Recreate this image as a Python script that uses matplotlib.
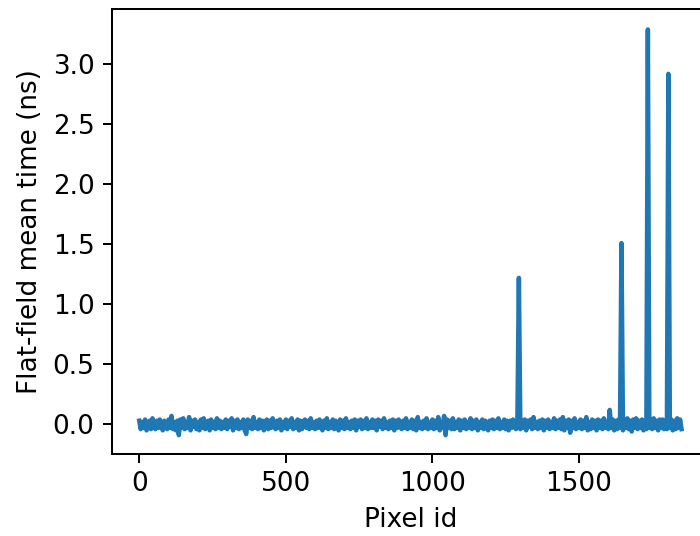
import numpy as np
import matplotlib
matplotlib.use("Agg")
import matplotlib.pyplot as plt

plt.rcParams["font.size"] = 10.5

# flat-field mean time per pixel, every 5 pixel ids
# (noise in units of 0.01 ns, spikes put in separately)
pixel_step = 5
noise_cns = [
    3, -4, 2, -3, 4, -5, 1, 3, -4, 5, -2, -4, 3, -3, 4, -2, -5, 3, 1, -4,
    4, -3, 7, -4, 2, -5, 3, -9, 4, -3, 5, -4, 2, -3, 6, -5, 3, -2, 4, -4,
    2, -5, 4, -3, 5, -4, 1, 3, -5, 4, -3, 2, -4, 5, -3, 3, -4, 2, -3, 4,
    -4, 3, -2, 5, -5, 3, -3, 4, -4, 2, -3, 4, -5, -8, 4, -3, 3, -4, 6, -3,
    2, -4, 4, -3, 3, -5, 2, 4, -4, 3, -3, 5, -2, -4, 3, -3, 4, -5, 2, -3,
    4, -4, 3, -2, 5, -4, 2, -3, 4, -5, 3, -4, 2, 4, -3, 3, -4, 5, -3, 2,
    -4, 3, -3, 4, -2, -5, 3, -3, 5, -4, 2, -3, 4, -4, 3, -2, -5, 4, -3, 3,
    -4, 5, -3, 2, -4, 3, -3, 4, -5, 3, -2, 4, -4, 3, -3, 5, -4, 2, -3, 4,
    -3, 3, -5, 4, -2, 3, -4, 5, -3, 2, -4, 3, -3, 4, -5, 3, -3, 4, -2, -4,
    3, -3, 5, -4, 2, -3, 4, -4, 3, -5, 6, -3, 2, -4, 3, -3, 5, -4, 2, -3,
    4, -4, 3, -3, 6, -5, 2, -3, 7, -9, 4, -3, 3, -4, 5, -4, 2, -3, 4, -5,
    3, -3, 4, -4, 2, -3, 5, -4, 3, -3, 4, -5, 2, -3, 4, -4, 3, -2, -5, 3,
    -3, 4, -4, 3, -3, 5, -4, 2, -3, 4, -4, 3, -5, 3, -3, 4, -2, -4, 3, 0,
    -4, 3, -3, 4, -5, 3, -2, 4, -4, 6, -3, 2, -4, 3, -3, 4, -5, 3, -3, 4,
    -4, 2, -3, 5, -4, 3, -3, 4, -4, 6, -5, 3, -3, 4, -7, 3, -3, 5, -4, 2,
    -3, 4, -4, 3, -3, 6, -5, 2, -4, 4, -3, 3, -5, 4, -3, 3, -4, 5, -3, 2,
    -4, 0, -3, 4, -5, 3, -4, 4, -3, 0, -5, 4, -3, 5, -4, 3, -6, 4, -3, 5,
    -4, 3, -3, 4, -5, 3, -4, 0, -3, 4, -4, 5, -3, 3, -5, 4, -3, 4, -4, 3,
    -4, 0, -3, 4, -5, 3, -4, 5, -3, 4, -4,
]
spike_ids = [1295, 1605, 1645, 1735, 1805]
spike_ns = [1.22, 0.12, 1.51, 3.29, 2.92]

pixel_id = np.arange(len(noise_cns)) * pixel_step
mean_time = np.array(noise_cns, dtype=float) / 100.0
for pid, val in zip(spike_ids, spike_ns):
    mean_time[pixel_id == pid] = val

fig = plt.figure(figsize=(700 / 180, 536 / 180), dpi=180)
ax = fig.add_axes([112 / 700, 1 - 453.5 / 536, (710 - 112) / 700, (453.5 - 9.3) / 536])
ax.plot(pixel_id, mean_time, color="C0", lw=1.8)
ax.set_xlim(-93, 1947)
ax.set_ylim(-0.243, 3.458)
ax.set_xlabel("Pixel id")
ax.set_ylabel("Flat-field mean time (ns)")

fig.savefig("out.png", dpi=180)
